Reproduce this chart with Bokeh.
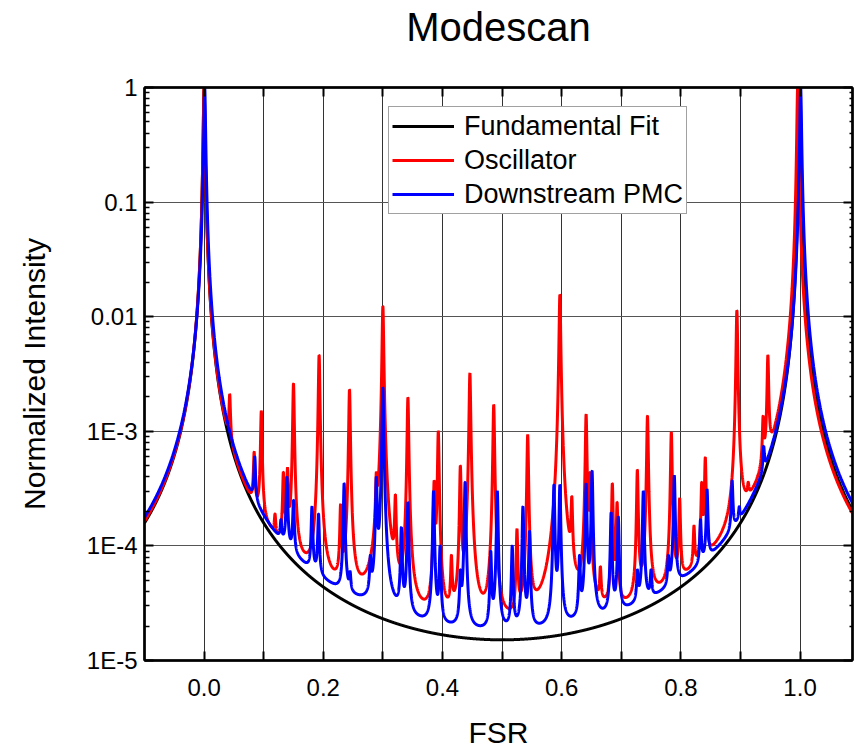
import numpy as np
from bokeh.plotting import figure
from bokeh.models import (FixedTicker, LogAxis, LinearAxis, Legend, LegendItem,
                          Range1d, CustomJSTickFormatter)
from bokeh.embed import file_html
from bokeh.resources import INLINE

# ---------------- texts ----------------
TITLE = "Modescan"
X_LABEL = "FSR"
Y_LABEL = "Normalized Intensity"
series_names = ["Fundamental Fit", "Oscillator", "Downstream PMC"]
series_colors = ["#000000", "#ff0000", "#0000ff"]

# ---------------- ticks ----------------
x_tick_values = [0.0, 0.2, 0.4, 0.6, 0.8, 1.0]
x_tick_labels = ["0.0", "0.2", "0.4", "0.6", "0.8", "1.0"]
x_minor_values = [0.1, 0.3, 0.5, 0.7, 0.9]
y_tick_values = [1e-5, 1e-4, 1e-3, 1e-2, 1e-1, 1.0]
y_tick_labels = ["1E-5", "1E-4", "1E-3", "0.01", "0.1", "1"]

# ---------------- data ----------------
# Fundamental Airy fit: coefficient of finesse and fundamental peak positions
fit_coefficient = 66000.0
fit_main_peaks = [0.0, 1.0]

# Oscillator: fundamental peaks + higher-order mode peaks (position, peak value)
osc_coefficient = 64000.0
osc_main_peaks = [0.0, 0.996]
osc_mode_pos = [0.043, 0.084, 0.096, 0.119, 0.133, 0.140, 0.150, 0.193, 0.229, 0.244,
                0.289, 0.300, 0.321, 0.342, 0.386, 0.393, 0.415, 0.430, 0.446, 0.486,
                0.525, 0.543, 0.597, 0.617, 0.641, 0.648, 0.665, 0.685, 0.693, 0.727,
                0.744, 0.784, 0.798, 0.822, 0.835, 0.841, 0.894, 0.913, 0.938, 0.946]
osc_mode_height = [2.1e-3, 6.6e-4, 1.5e-3, 1.9e-4, 4.4e-4, 4.8e-4, 2.6e-3, 4.6e-3, 2.3e-4, 2.3e-3,
                   4.4e-4, 1.23e-2, 2.8e-4, 1.96e-3, 3.7e-4, 1.0e-3, 8.3e-5, 5.0e-4, 3.2e-3, 1.7e-3,
                   1.4e-4, 9.3e-4, 1.55e-2, 2.7e-4, 1.4e-3, 4.4e-4, 6.6e-5, 3.5e-4, 2.4e-4, 4.6e-4,
                   1.36e-3, 9.8e-4, 2.6e-4, 1.5e-4, 3.6e-4, 5.9e-4, 1.13e-2, 3.6e-4, 1.36e-3, 4.6e-3]

# Downstream PMC
pmc_coefficient = 58000.0
pmc_main_peaks = [0.001, 1.001]
pmc_mode_pos = [0.085, 0.129, 0.139, 0.150, 0.181, 0.192, 0.235, 0.245, 0.279, 0.289,
                0.300, 0.331, 0.342, 0.385, 0.396, 0.430, 0.438, 0.481, 0.492, 0.517,
                0.535, 0.546, 0.587, 0.597, 0.630, 0.641, 0.651, 0.683, 0.695, 0.727,
                0.737, 0.750, 0.779, 0.789, 0.833, 0.844, 0.886, 0.898, 0.939]
pmc_mode_height = [6e-4, 1.7e-4, 4e-4, 2.5e-4, 2.2e-4, 1.9e-4, 3.5e-4, 6e-5, 8.3e-5, 4e-4,
                   2.4e-3, 1.45e-4, 2.4e-4, 3e-4, 1e-4, 6.2e-5, 3.6e-4, 9e-5, 3e-4, 1e-4,
                   2.2e-4, 1.35e-4, 3.4e-4, 3.4e-4, 8.3e-5, 3.5e-4, 4.5e-4, 1.95e-4, 1.8e-4, 6.2e-5,
                   3e-4, 6.2e-5, 8.3e-5, 4.1e-4, 1.7e-4, 3.1e-4, 3.7e-4, 2.2e-4, 7.4e-4]

X_MIN, X_MAX = -0.1, 1.088


def airy(x, coef, x0, fsr):
    return 1.0 / (1.0 + coef * np.sin(np.pi * (x - x0) / fsr) ** 2)


def mode(x, coef, x0, fsr):
    # single (non-repeating) mode line
    d = np.clip((x - x0) / fsr, -0.5, 0.5)
    return 1.0 / (1.0 + coef * np.sin(np.pi * d) ** 2)


def spectrum(x, coef, main, pos, heights):
    x0, x1 = main
    fsr = x1 - x0
    base = airy(x, coef, x0, fsr)
    pos = np.asarray(pos, dtype=float)
    h = np.asarray(heights, dtype=float)
    if len(pos) == 0:
        return base
    m = mode(pos[:, None], coef, pos[None, :], fsr)
    rhs = h - airy(pos, coef, x0, fsr)
    amp = np.linalg.solve(m, rhs)
    amp = np.clip(amp, 1e-7, None)
    return base + (amp[None, :] * mode(x[:, None], coef, pos[None, :], fsr)).sum(axis=1)


xs = np.linspace(X_MIN, X_MAX, 14001)
xs = np.union1d(xs, np.array(osc_mode_pos + pmc_mode_pos + osc_main_peaks + pmc_main_peaks))
xs = xs[(xs >= X_MIN) & (xs <= X_MAX)]

y_fit = np.minimum(spectrum(xs, fit_coefficient, fit_main_peaks, [], []), 1.0)
y_osc = np.minimum(spectrum(xs, osc_coefficient, osc_main_peaks, osc_mode_pos, osc_mode_height), 1.0)
y_pmc = np.minimum(spectrum(xs, pmc_coefficient, pmc_main_peaks, pmc_mode_pos, pmc_mode_height), 1.0)

FONT = "Liberation Sans"

p = figure(width=854, height=751,
           x_range=Range1d(X_MIN, X_MAX), y_range=Range1d(1e-5, 1.0),
           y_axis_type="log", output_backend="svg", toolbar_location=None,
           min_border_left=144, min_border_right=2, min_border_top=87, min_border_bottom=90)

p.background_fill_color = "white"
p.border_fill_color = "white"
p.outline_line_color = "black"
p.outline_line_width = 2

renderers = []
for yv, col in zip([y_fit, y_osc, y_pmc], series_colors):
    r = p.line(xs, yv, line_color=col, line_width=3)
    renderers.append(r)

fmt_code = """
let best = -1, bd = 1e9;
for (let i = 0; i < vals.length; i++) {
  const d = islog ? Math.abs(Math.log10(vals[i]) - Math.log10(tick)) : Math.abs(vals[i] - tick);
  if (d < bd) { bd = d; best = i; }
}
return bd < 1e-6 ? labs[best] : "";
"""

y_minor = [m * d for d in y_tick_values[:-1] for m in range(2, 10)]

# bottom axis
xa = p.xaxis[0]
xa.ticker = FixedTicker(ticks=x_tick_values, minor_ticks=x_minor_values)
xa.formatter = CustomJSTickFormatter(args=dict(vals=x_tick_values, labs=x_tick_labels, islog=False), code=fmt_code)
xa.axis_label = X_LABEL
# left axis
ya = p.yaxis[0]
ya.ticker = FixedTicker(ticks=y_tick_values, minor_ticks=y_minor)
ya.formatter = CustomJSTickFormatter(args=dict(vals=y_tick_values, labs=y_tick_labels, islog=True), code=fmt_code)
ya.axis_label = Y_LABEL

for ax in (xa, ya):
    ax.axis_line_width = 2.5
    ax.axis_line_color = "black"
    ax.major_tick_in = 9
    ax.major_tick_out = 0
    ax.major_tick_line_width = 2
    ax.minor_tick_line_width = 1.5
    ax.major_label_text_font = FONT
    ax.major_label_text_font_size = "24px"
    ax.major_label_text_color = "black"
    ax.axis_label_text_font = FONT
    ax.axis_label_text_font_size = "30px"
    ax.axis_label_text_font_style = "normal"
    ax.axis_label_text_color = "black"

xa.minor_tick_in = 9
xa.minor_tick_out = 0
xa.minor_tick_line_width = 2
xa.major_label_standoff = 18
xa.axis_label_standoff = 17
ya.minor_tick_in = 5
ya.minor_tick_out = 0
ya.major_label_standoff = 7
ya.axis_label_standoff = 33

# top axis, carrying the chart title as its label
top = LinearAxis(ticker=FixedTicker(ticks=sorted(x_tick_values + x_minor_values)),
                 formatter=CustomJSTickFormatter(code='return "";'))
top.major_label_standoff = 0
top.major_tick_in = 9
top.major_tick_out = 0
top.major_tick_line_width = 2
top.minor_tick_line_color = None
top.axis_line_width = 2.5
top.axis_label = TITLE
top.axis_label_text_font = FONT
top.axis_label_text_font_size = "40px"
top.axis_label_text_font_style = "normal"
top.axis_label_text_color = "black"
top.axis_label_standoff = 39
p.add_layout(top, "above")

# right axis
right = LogAxis(ticker=FixedTicker(ticks=y_tick_values, minor_ticks=y_minor),
                formatter=CustomJSTickFormatter(code='return "";'))
right.major_label_standoff = 0
right.major_tick_in = 9
right.major_tick_out = 0
right.major_tick_line_width = 2
right.minor_tick_in = 3
right.minor_tick_out = 0
right.minor_tick_line_width = 1.5
right.axis_line_width = 2.5
p.add_layout(right, "right")

# grids
p.xgrid.grid_line_color = "#333333"
p.xgrid.grid_line_width = 1
p.xgrid.minor_grid_line_color = "#333333"
p.xgrid.minor_grid_line_width = 1
p.ygrid.grid_line_color = "#555555"
p.ygrid.grid_line_width = 1
p.ygrid.minor_grid_line_color = None

legend = Legend(items=[LegendItem(label=n, renderers=[r]) for n, r in zip(series_names, renderers)],
                location=(244, 446))
legend.margin = 0
legend.padding = 3
legend.spacing = 2
legend.label_height = 32
legend.glyph_height = 32
legend.glyph_width = 62
legend.label_standoff = 10
legend.label_text_font = FONT
legend.label_text_font_size = "27px"
legend.label_text_color = "black"
legend.border_line_color = "#444444"
legend.border_line_width = 1
legend.background_fill_color = "white"
legend.background_fill_alpha = 1
p.add_layout(legend)

open("out.html", "w").write(file_html(p, INLINE))
